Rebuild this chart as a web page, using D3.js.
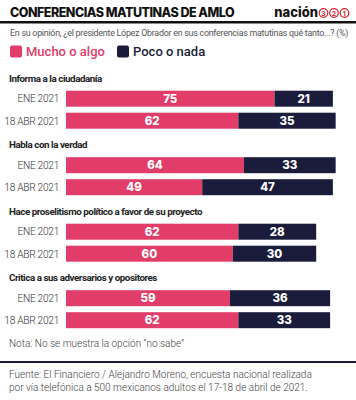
<!DOCTYPE html>
<html><head><meta charset="utf-8">
<script src="https://cdn.jsdelivr.net/npm/d3@7"></script>
<style>body{margin:0;background:#fff}svg{display:block}</style>
</head><body>
<script>
const categories = ["Informa a la ciudadanía","Habla con la verdad","Hace proselitismo político a favor de su proyecto","Critica a sus adversarios y opositores"];
const periods = ["ENE 2021","18 ABR 2021"];
const mucho = [[75,62],[64,49],[62,60],[59,62]];
const poco = [[21,35],[33,47],[28,30],[36,33]];
const seriesNames = ["Mucho o algo","Poco o nada"];
const colors = ["#e23d69","#1b1c3b"];

const W=356,H=400;
const svg=d3.select("body").append("svg").attr("width",W).attr("height",H);
const font="Roboto, 'Noto Sans', sans-serif";

// header
svg.append("text").attr("x",10).attr("y",17).attr("font-family","Inter, sans-serif").attr("font-weight",800)
 .attr("font-size",12.5).attr("letter-spacing",-0.5).attr("fill","#111").text("CONFERENCIAS MATUTINAS DE AMLO");
svg.append("text").attr("x",318).attr("y",17).attr("text-anchor","end").attr("font-family","Inter, sans-serif").attr("font-weight",800)
 .attr("font-size",13).attr("fill","#111").text("nación");
["3","2","1"].forEach((d,i)=>{
  const cx=323.5+i*10.5;
  svg.append("circle").attr("cx",cx).attr("cy",13).attr("r",4.3).attr("fill","none").attr("stroke","#e0202c").attr("stroke-width",1.2);
  svg.append("text").attr("x",cx).attr("y",15.8).attr("text-anchor","middle").attr("font-family",font).attr("font-weight",700)
   .attr("font-size",7).attr("fill","#e0202c").text(d);
});
svg.append("rect").attr("x",0).attr("y",21).attr("width",W).attr("height",2.5).attr("fill","#111");
svg.append("text").attr("x",10).attr("y",36).attr("font-family",font).attr("font-size",8.9).attr("letter-spacing",-0.25).attr("fill","#555")
 .text("En su opinión, ¿el presidente López Obrador en sus conferencias matutinas qué tanto...? (%)");

// legend
const legX=[10,117];
seriesNames.forEach((n,i)=>{
  svg.append("rect").attr("x",legX[i]).attr("y",45.5).attr("width",12).attr("height",12).attr("rx",2).attr("fill",colors[i]);
  svg.append("text").attr("x",legX[i]+16).attr("y",56).attr("font-family",font).attr("font-weight",500)
   .attr("font-size",13).attr("fill",i===0?colors[0]:"#1b1c3b").text(n);
});

// chart
const x=d3.scaleLinear().domain([0,100]).range([66,344]);
const groupTop=d3.scaleLinear().domain([0,1]).range([70,136.5]);
const band=d3.scaleBand().domain(periods).range([0,38]).paddingInner(0.273).paddingOuter(0);

categories.forEach((c,gi)=>{
  const gy=groupTop(gi);
  svg.append("text").attr("x",9).attr("y",gy+11.5).attr("font-family",font).attr("font-weight",700)
   .attr("font-size",9.8).attr("letter-spacing",-0.45).attr("fill","#222").text(c);
  const by=gy+20.7;
  periods.forEach((p,pi)=>{
    const y=by+band(p), h=band.bandwidth();
    const m=mucho[gi][pi], q=poco[gi][pi];
    svg.append("text").attr("x",59).attr("y",y+h/2+3.8).attr("text-anchor","end").attr("font-family",font)
     .attr("font-weight",300).attr("font-size",10.2).attr("letter-spacing",-0.3).attr("fill","#333").text(p);
    svg.append("rect").attr("x",x(0)).attr("y",y).attr("width",x(m)-x(0)).attr("height",h).attr("fill",colors[0]);
    svg.append("rect").attr("x",x(m)).attr("y",y).attr("width",x(m+q)-x(m)).attr("height",h).attr("fill",colors[1]);
    svg.append("text").attr("x",(x(0)+x(m))/2).attr("y",y+h/2+4.2).attr("text-anchor","middle").attr("font-family","Inter, sans-serif")
     .attr("font-weight",800).attr("font-size",11.5).attr("fill","#fff").text(m);
    svg.append("text").attr("x",(x(m)+x(m+q))/2).attr("y",y+h/2+4.2).attr("text-anchor","middle").attr("font-family","Inter, sans-serif")
     .attr("font-weight",800).attr("font-size",11.5).attr("fill","#fff").text(q);
  });
});

// notes
svg.append("text").attr("x",9).attr("y",347).attr("font-family",font).attr("font-weight",300).attr("font-size",10)
 .attr("fill","#444").text("Nota: No se muestra la opción “no sabe”");
svg.append("rect").attr("x",0).attr("y",361).attr("width",W).attr("height",2).attr("fill","#1b1c3b");
svg.append("text").attr("x",9).attr("y",378).attr("font-family",font).attr("font-weight",300).attr("font-size",10)
 .attr("fill","#444").text("Fuente: El Financiero / Alejandro Moreno, encuesta nacional realizada");
svg.append("text").attr("x",9).attr("y",391).attr("font-family",font).attr("font-weight",300).attr("font-size",10)
 .attr("fill","#444").text("por vía telefónica a 500 mexicanos adultos el 17-18 de abril de 2021.");
</script>
</body></html>
